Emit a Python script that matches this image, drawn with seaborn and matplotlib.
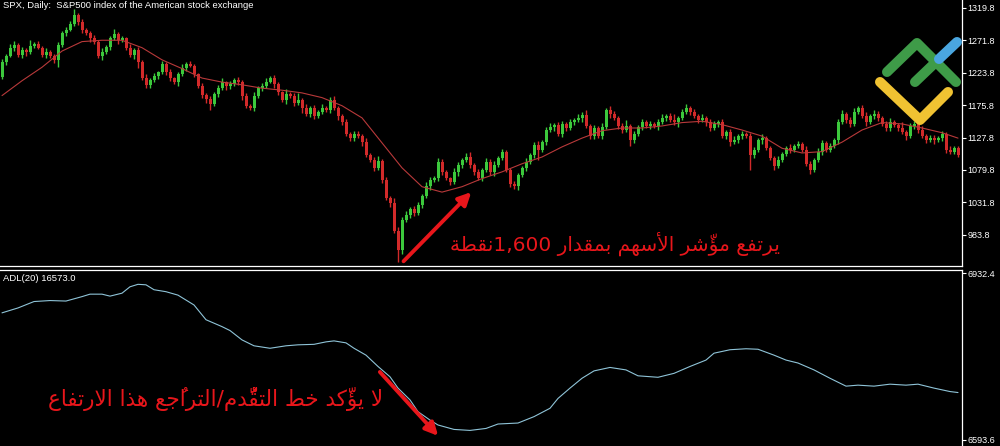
import unicodedata

import numpy as np
import matplotlib
matplotlib.use("Agg")
import matplotlib.pyplot as plt
import seaborn as sns

# SPX daily candles (price points), open = previous close
first_open = 1218
close = [
    1240, 1249, 1261, 1265, 1250, 1258, 1255, 1264, 1267, 1261, 1250, 1255, 1249, 1243, 1265, 1283, 1287, 1296, 1310, 1299,
    1287, 1283, 1275, 1270, 1249, 1255, 1262, 1275, 1281, 1272, 1275, 1261, 1250, 1258, 1240, 1216, 1206, 1213, 1219, 1225,
    1237, 1225, 1216, 1210, 1222, 1231, 1237, 1234, 1222, 1204, 1191, 1185, 1178, 1192, 1201, 1210, 1204, 1207, 1213, 1210,
    1190, 1175, 1172, 1190, 1201, 1204, 1210, 1216, 1207, 1195, 1184, 1192, 1190, 1179, 1184, 1172, 1163, 1172, 1160, 1166,
    1172, 1169, 1184, 1172, 1160, 1151, 1133, 1127, 1133, 1130, 1121, 1102, 1095, 1083, 1093, 1065, 1038, 1031, 990, 961,
    1006, 1013, 1022, 1016, 1028, 1041, 1056, 1065, 1068, 1092, 1077, 1068, 1062, 1077, 1087, 1095, 1099, 1087, 1077, 1068,
    1080, 1092, 1077, 1087, 1098, 1107, 1080, 1059, 1056, 1072, 1083, 1092, 1102, 1117, 1110, 1121, 1139, 1144, 1147, 1133,
    1148, 1142, 1151, 1154, 1157, 1161, 1145, 1130, 1142, 1130, 1144, 1169, 1163, 1157, 1145, 1139, 1145, 1124, 1133, 1144,
    1151, 1145, 1148, 1145, 1151, 1157, 1160, 1154, 1151, 1157, 1166, 1172, 1166, 1160, 1154, 1157, 1151, 1142, 1148, 1151,
    1130, 1136, 1121, 1124, 1130, 1133, 1130, 1102, 1110, 1124, 1127, 1112, 1098, 1086, 1095, 1104, 1112, 1110, 1115, 1118,
    1110, 1089, 1080, 1095, 1107, 1120, 1110, 1115, 1124, 1151, 1163, 1154, 1148, 1166, 1172, 1160, 1151, 1160, 1163, 1157,
    1148, 1142, 1151, 1146, 1142, 1136, 1130, 1145, 1148, 1139, 1130, 1124, 1127, 1124, 1127, 1133, 1110, 1107, 1112, 1102,
]
# shadow lengths above / below the body
wick_up = [
    4, 3, 5, 6, 3, 4, 2, 8, 3, 4, 3, 5, 2, 3, 4, 3, 5, 4, 9, 3,
    4, 3, 2, 5, 3, 6, 3, 4, 7, 3, 4, 2, 5, 3, 4, 3, 6, 3, 4, 2,
    5, 3, 4, 2, 3, 6, 3, 4, 3, 2, 4, 3, 5, 3, 4, 6, 2, 4, 3, 5,
    3, 4, 2, 5, 3, 4, 6, 3, 4, 3, 2, 8, 3, 4, 10, 3, 5, 3, 4, 2,
    5, 3, 4, 6, 3, 2, 4, 3, 5, 4, 3, 6, 3, 4, 7, 3, 4, 3, 8, 5,
    4, 6, 3, 5, 4, 3, 6, 4, 3, 5, 4, 3, 2, 5, 4, 3, 6, 8, 3, 4,
    3, 5, 4, 6, 3, 4, 3, 2, 5, 4, 3, 6, 3, 4, 5, 3, 4, 6, 3, 4,
    5, 3, 4, 3, 6, 4, 8, 3, 4, 3, 5, 3, 6, 4, 3, 5, 9, 3, 4, 3,
    4, 3, 5, 3, 4, 6, 3, 4, 8, 3, 4, 5, 3, 4, 3, 6, 3, 4, 5, 3,
    4, 3, 5, 6, 3, 4, 3, 5, 4, 3, 6, 3, 4, 3, 5, 3, 4, 6, 3, 4,
    3, 5, 4, 3, 6, 4, 3, 5, 3, 4, 6, 3, 4, 5, 3, 4, 6, 3, 5, 4,
    3, 4, 6, 3, 4, 9, 3, 5, 4, 3, 6, 3, 4, 5, 3, 4, 3, 5, 4, 3,
]
wick_dn = [
    3, 4, 2, 5, 3, 4, 6, 3, 4, 2, 3, 5, 3, 4, 10, 3, 4, 2, 3, 5,
    4, 3, 5, 3, 4, 6, 3, 4, 2, 5, 3, 4, 3, 6, 9, 3, 4, 5, 3, 4,
    3, 5, 4, 3, 6, 3, 4, 2, 5, 3, 4, 6, 9, 3, 4, 3, 5, 4, 3, 4,
    6, 3, 4, 5, 3, 4, 3, 2, 5, 4, 3, 6, 3, 4, 3, 8, 3, 4, 5, 3,
    4, 3, 5, 3, 6, 4, 3, 5, 4, 3, 6, 3, 4, 5, 3, 4, 3, 6, 4, 18,
    6, 3, 4, 5, 3, 4, 3, 6, 3, 4, 5, 3, 4, 3, 6, 4, 3, 5, 4, 3,
    5, 3, 4, 6, 3, 4, 3, 5, 4, 6, 3, 4, 3, 5, 15, 3, 4, 3, 6, 3,
    4, 5, 3, 4, 3, 6, 3, 4, 5, 3, 4, 3, 6, 3, 4, 5, 3, 8, 4, 3,
    5, 3, 4, 3, 6, 3, 4, 3, 5, 7, 3, 4, 5, 3, 4, 3, 6, 4, 3, 5,
    3, 4, 6, 3, 4, 5, 3, 22, 4, 3, 5, 3, 4, 6, 3, 4, 3, 5, 4, 3,
    4, 3, 6, 3, 4, 5, 3, 4, 3, 6, 3, 4, 5, 3, 4, 3, 6, 3, 4, 5,
    3, 4, 5, 3, 4, 3, 6, 3, 4, 5, 3, 4, 3, 6, 3, 4, 5, 3, 4, 3,
]

# moving average, read every 5th bar
ma_bar = list(range(0, 240, 5)) + [239]
ma_val = [1190, 1212, 1232, 1256, 1270, 1272, 1272, 1261, 1243, 1230, 1216, 1210, 1206, 1201, 1198, 1194,
          1187, 1175, 1157, 1120, 1083, 1055, 1047, 1055, 1067, 1077, 1089, 1099, 1114, 1127, 1138, 1142,
          1142, 1145, 1150, 1152, 1147, 1139, 1130, 1112, 1105, 1107, 1121, 1139, 1150, 1148, 1142, 1135, 1127]

# ADL(20)
adl_bar = [0, 4, 8, 12, 16, 20, 22, 25, 27, 30, 32, 34, 36, 38, 41, 44, 48, 51, 55, 57, 60, 63, 67, 71, 74,
           78, 81, 83, 86, 88, 91, 94, 97, 99, 102, 104, 107, 109, 113, 117, 121, 124, 129, 133, 137, 139,
           142, 145, 148, 152, 156, 159, 164, 168, 172, 176, 178, 182, 186, 189, 193, 196, 199, 203, 207,
           211, 214, 218, 222, 226, 229, 233, 237, 239]
adl_val = [6852, 6862, 6875, 6877, 6876, 6885, 6890, 6890, 6886, 6892, 6905, 6910, 6909, 6899, 6895, 6888,
           6868, 6838, 6824, 6816, 6797, 6785, 6780, 6785, 6787, 6788, 6793, 6795, 6791, 6780, 6766, 6743,
           6722, 6699, 6675, 6651, 6634, 6624, 6615, 6613, 6617, 6626, 6628, 6641, 6658, 6678, 6699, 6719,
           6734, 6741, 6736, 6724, 6721, 6729, 6743, 6756, 6770, 6777, 6779, 6778, 6766, 6756, 6750, 6736,
           6719, 6703, 6705, 6703, 6707, 6705, 6707, 6699, 6692, 6690]

price_ticks = [983.8, 1031.8, 1079.8, 1127.8, 1175.8, 1223.8, 1271.8, 1319.8]
adl_ticks = [6593.6, 6932.4]

title_txt = "SPX, Daily:  S&P500 index of the American stock exchange"
adl_txt = "ADL(20) 16573.0"
note_up = "يرتفع مؤشّر الأسهم بمقدار 1,600نقطة"
note_adl = "لا يؤكّد خط التقدُّم/التراجُع هذا الارتفاع"

GREEN = "#3cc83c"
RED = "#d22a2a"
NOTE_RED = "#e8161b"

# isolated, final, initial, medial presentation forms
AR_FORMS = {
    "ا": (0xFE8D, 0xFE8E, None, None), "أ": (0xFE83, 0xFE84, None, None),
    "ؤ": (0xFE85, 0xFE86, None, None), "ب": (0xFE8F, 0xFE90, 0xFE91, 0xFE92),
    "ة": (0xFE93, 0xFE94, None, None), "ت": (0xFE95, 0xFE96, 0xFE97, 0xFE98),
    "ج": (0xFE9D, 0xFE9E, 0xFE9F, 0xFEA0), "خ": (0xFEA5, 0xFEA6, 0xFEA7, 0xFEA8),
    "د": (0xFEA9, 0xFEAA, None, None), "ذ": (0xFEAB, 0xFEAC, None, None),
    "ر": (0xFEAD, 0xFEAE, None, None), "س": (0xFEB1, 0xFEB2, 0xFEB3, 0xFEB4),
    "ش": (0xFEB5, 0xFEB6, 0xFEB7, 0xFEB8), "ط": (0xFEC1, 0xFEC2, 0xFEC3, 0xFEC4),
    "ع": (0xFEC9, 0xFECA, 0xFECB, 0xFECC), "ف": (0xFED1, 0xFED2, 0xFED3, 0xFED4),
    "ق": (0xFED5, 0xFED6, 0xFED7, 0xFED8), "ك": (0xFED9, 0xFEDA, 0xFEDB, 0xFEDC),
    "ل": (0xFEDD, 0xFEDE, 0xFEDF, 0xFEE0), "م": (0xFEE1, 0xFEE2, 0xFEE3, 0xFEE4),
    "ن": (0xFEE5, 0xFEE6, 0xFEE7, 0xFEE8), "ه": (0xFEE9, 0xFEEA, 0xFEEB, 0xFEEC),
    "ي": (0xFEF1, 0xFEF2, 0xFEF3, 0xFEF4),
    "لا": (0xFEFB, 0xFEFC, None, None), "لأ": (0xFEF7, 0xFEF8, None, None),
}


def shape_ar(text):
    # matplotlib does no arabic shaping, so do joining + visual order here
    clusters = []
    for ch in text:
        if unicodedata.category(ch) == "Mn" and clusters:
            clusters[-1][1].append(ch)
        elif clusters and clusters[-1][0] == "ل" and not clusters[-1][1] and ch in "اأ":
            clusters[-1][0] = "ل" + ch
        else:
            clusters.append([ch, []])
    out = []
    n = len(clusters)
    for i, (base, marks) in enumerate(clusters):
        f = AR_FORMS.get(base)
        if f is None:
            out.append(base + "".join(marks))
            continue
        prev = AR_FORMS.get(clusters[i - 1][0]) if i > 0 else None
        nxt = AR_FORMS.get(clusters[i + 1][0]) if i < n - 1 else None
        jp = prev is not None and prev[2] is not None
        jn = nxt is not None and f[2] is not None
        code = f[3] if (jp and jn) else f[1] if jp else f[2] if jn else f[0]
        out.append(chr(code) + "".join(marks))
    out = out[::-1]
    res, run = [], []
    for c in out:
        if c[0] in "0123456789,.":
            run.append(c)
        else:
            res.extend(run[::-1])
            run = []
            res.append(c)
    res.extend(run[::-1])
    return "".join(res)


sns.set_theme(style="dark", rc={"axes.facecolor": "black", "figure.facecolor": "black"})
plt.rcParams["font.family"] = ["Liberation Sans", "DejaVu Sans"]

fig = plt.figure(figsize=(10, 4.46), dpi=100)
ax1 = fig.add_axes([0, 0.4025, 0.962, 0.5975])
ax2 = fig.add_axes([0, 0, 0.962, 0.3957])

idx = np.arange(len(close))
c = np.array(close, dtype=float)
o = np.concatenate([[first_open], c[:-1]])
top = np.maximum(o, c)
bot = np.minimum(o, c)
high = top + np.array(wick_up)
low = bot - np.array(wick_dn)
cols = [GREEN if cc >= oo else RED for oo, cc in zip(o, c)]

ax1.vlines(idx, low, high, colors=cols, lw=1.0, zorder=2)
ax1.bar(idx, np.maximum(top - bot, 0.8), bottom=bot, width=0.75, color=cols, lw=0, zorder=3)
sns.lineplot(x=ma_bar, y=ma_val, ax=ax1, color="#b8393a", lw=0.8, zorder=4)

sns.lineplot(x=adl_bar, y=adl_val, ax=ax2, color="#8fc4d8", lw=0.8)

for ax in (ax1, ax2):
    ax.set_facecolor("black")
    ax.grid(False)
    ax.set_xlim(-0.5, 240)
    ax.set_xticks([])
    ax.set_xlabel("")
    ax.set_ylabel("")
    ax.yaxis.tick_right()
    ax.tick_params(axis="y", colors="white", labelsize=6.5, length=3, width=0.8, pad=1, direction="out")
    ax.spines["left"].set_visible(False)
    for s in ("right", "top", "bottom"):
        ax.spines[s].set_color("white")
        ax.spines[s].set_linewidth(0.9)
ax1.spines["top"].set_visible(False)
ax2.spines["bottom"].set_visible(False)

ax1.set_ylim(936.8, 1331.65)
ax1.set_yticks(price_ticks)
ax1.set_yticklabels([f"{t:.1f}" for t in price_ticks])
ax2.set_ylim(6581.3, 6940.1)
ax2.set_yticks(adl_ticks)
ax2.set_yticklabels([f"{t:.1f}" for t in adl_ticks])

ax1.text(0.003, 0.997, title_txt, transform=ax1.transAxes, ha="left", va="top", color="white", fontsize=6.8)
ax2.text(0.003, 0.975, adl_txt, transform=ax2.transAxes, ha="left", va="top", color="white", fontsize=6.8)

# annotations
ax1.annotate("", xy=(117.8, 1050), xytext=(99.9, 941.6),
             arrowprops=dict(arrowstyle="-|>", color=NOTE_RED, lw=2.8, mutation_scale=19))
ax2.annotate("", xy=(109.5, 6597.7), xytext=(94, 6736),
             arrowprops=dict(arrowstyle="-|>", color=NOTE_RED, lw=2.8, mutation_scale=19))
ax1.text(194.5, 970, shape_ar(note_up), ha="right", va="center", color=NOTE_RED, fontsize=14.5,
         family=["DejaVu Sans"])
ax2.text(95.25, 6677, shape_ar(note_adl), ha="right", va="center", color=NOTE_RED, fontsize=15.5,
         family=["DejaVu Sans"])

# logo, drawn in pixel space
lg = fig.add_axes([0, 0, 1, 1], facecolor="none")
lg.set_xlim(0, 1000)
lg.set_ylim(446, 0)
lg.axis("off")
kw = dict(lw=7.2, solid_capstyle="round", solid_joinstyle="round")
lg.plot([880, 920, 948], [82, 120, 92], color="#f0c232", **kw)
lg.plot([887, 917, 956], [72, 43, 82], color="#3e9b48", **kw)
lg.plot([915, 937], [82, 61], color="#3e9b48", **kw)
lg.plot([939, 957], [59, 42], color="#4aa6e0", **kw)

fig.savefig("out.png", dpi=100, facecolor="black")
